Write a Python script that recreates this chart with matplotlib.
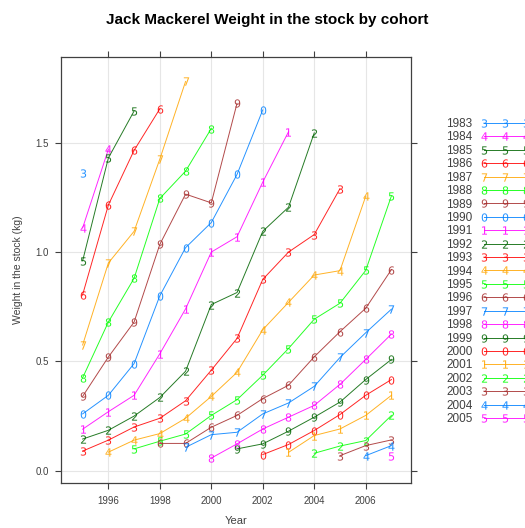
import numpy as np
import matplotlib
matplotlib.use("Agg")
import matplotlib.pyplot as plt

plt.rcParams['font.family'] = ['Liberation Sans', 'DejaVu Sans']

# cohort (year class), first year in the stock, weights (kg) by year
cohorts = [1983, 1984, 1985, 1986, 1987, 1988, 1989, 1990, 1991, 1992, 1993, 1994,
           1995, 1996, 1997, 1998, 1999, 2000, 2001, 2002, 2003, 2004, 2005]
first_year = [1995, 1995, 1995, 1995, 1995, 1995, 1995, 1995, 1995, 1995, 1995, 1996,
              1997, 1998, 1999, 2000, 2001, 2002, 2003, 2004, 2005, 2006, 2007]
weights = [
    [1.36],
    [1.11, 1.47],
    [0.96, 1.43, 1.645],
    [0.805, 1.215, 1.465, 1.655],
    [0.575, 0.95, 1.095, 1.425, 1.78],
    [0.425, 0.68, 0.88, 1.245, 1.37, 1.565],
    [0.34, 0.52, 0.68, 1.035, 1.265, 1.225, 1.68],
    [0.26, 0.345, 0.49, 0.80, 1.02, 1.135, 1.355, 1.65],
    [0.19, 0.27, 0.345, 0.535, 0.74, 1.0, 1.07, 1.32, 1.55],
    [0.145, 0.185, 0.25, 0.335, 0.455, 0.76, 0.815, 1.095, 1.205, 1.545],
    [0.09, 0.14, 0.20, 0.24, 0.32, 0.46, 0.605, 0.875, 1.0, 1.08, 1.29],
    [0.085, 0.14, 0.17, 0.24, 0.34, 0.45, 0.645, 0.77, 0.895, 0.915, 1.255],
    [0.10, 0.135, 0.168, 0.253, 0.325, 0.437, 0.559, 0.693, 0.766, 0.916, 1.257],
    [0.125, 0.125, 0.199, 0.253, 0.33, 0.391, 0.521, 0.636, 0.743, 0.92],
    [0.107, 0.165, 0.176, 0.26, 0.31, 0.386, 0.518, 0.631, 0.739],
    [0.058, 0.123, 0.191, 0.245, 0.299, 0.395, 0.509, 0.625],
    [0.10, 0.123, 0.181, 0.245, 0.314, 0.417, 0.509],
    [0.074, 0.12, 0.184, 0.257, 0.345, 0.417],
    [0.084, 0.161, 0.191, 0.253, 0.345],
    [0.08, 0.113, 0.138, 0.253],
    [0.069, 0.115, 0.141],
    [0.069, 0.115],
    [0.069],
]

# lattice default superpose colours
colors = ["#0080ff", "#ff00ff", "#006400", "#ff0000", "#ffa500", "#00ff00", "#a52a2a"]

fig = plt.figure(figsize=(5.25, 5.28), dpi=100)
ax = fig.add_axes([61 / 525, 1 - 483 / 528, 350 / 525, 426 / 528])

handles = []
for i, (c, y0, w) in enumerate(zip(cohorts, first_year, weights)):
    yrs = np.arange(y0, y0 + len(w))
    digit = str(c)[-1]
    ln, = ax.plot(yrs, w, color=colors[i % 7], lw=0.7, alpha=0.85,
                  marker="$%s$" % digit, markersize=6, markeredgewidth=0,
                  label=str(c))
    handles.append(ln)

ax.set_xlim(1994.16, 2007.76)
ax.set_ylim(-0.056, 1.892)
ax.set_xticks([1996, 1998, 2000, 2002, 2004, 2006])
ax.set_yticks([0.0, 0.5, 1.0, 1.5])
ax.set_yticklabels(["0.0", "0.5", "1.0", "1.5"])
ax.grid(True, color="#e6e6e6", lw=0.8)
ax.set_axisbelow(True)

for s in ax.spines.values():
    s.set_color("#404040")
    s.set_linewidth(0.9)
ax.tick_params(direction="out", length=4, width=0.8, color="#404040",
               labelsize=7, labelcolor="#404040", pad=5,
               top=True, right=True, labeltop=False, labelright=False)

fig.text(236 / 525, 1 - 521 / 528, "Year", ha="center", va="center",
         fontsize=8, color="#404040")
fig.text(18 / 525, 1 - 270 / 528, "Weight in the stock (kg)", rotation=90,
         ha="center", va="center", fontsize=7.5, color="#404040")
fig.text(267 / 525, 1 - 20 / 528, "Jack Mackerel Weight in the stock by cohort",
         ha="center", va="center", fontsize=11, fontweight="bold")

fig.legend(handles=handles, loc="upper left", bbox_to_anchor=(446 / 525, 1 - 118 / 528),
           frameon=False, fontsize=8.5, numpoints=3, markerfirst=False,
           handlelength=4.1, handletextpad=0.7, labelspacing=0.12,
           borderpad=0, borderaxespad=0, labelcolor="#404040")

fig.savefig("out.png", dpi=100)
